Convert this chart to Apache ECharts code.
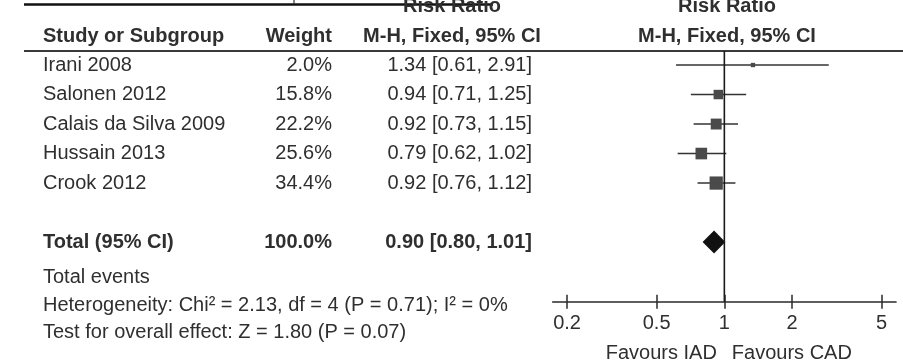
<!DOCTYPE html>
<html>
<head>
<meta charset="utf-8">
<script src="https://cdn.jsdelivr.net/npm/echarts@6/dist/echarts.min.js"></script>
<style>
  html, body { margin: 0; padding: 0; background: #fff; }
  #chart { width: 903px; height: 361px; }
</style>
</head>
<body>
<div id="chart"></div>
<script>
// Study-level data
const studies = ['Irani 2008', 'Salonen 2012', 'Calais da Silva 2009', 'Hussain 2013', 'Crook 2012'];
const weights = [2.0, 15.8, 22.2, 25.6, 34.4];
const ratios  = [1.34, 0.94, 0.92, 0.79, 0.92];
const lower   = [0.61, 0.71, 0.73, 0.62, 0.76];
const upper   = [2.91, 1.25, 1.15, 1.02, 1.12];

// Pooled estimate
const totalLabel  = 'Total (95% CI)';
const totalWeight = 100.0;
const totalRatio  = 0.90;
const totalLower  = 0.80;
const totalUpper  = 1.01;

// Axis ticks (risk ratio, log scale)
const tickValues = [0.2, 0.5, 1, 2, 5];
const tickLabels = ['0.2', '0.5', '1', '2', '5'];

// Text
const headers     = ['Study or Subgroup', 'Weight', 'M-H, Fixed, 95% CI'];
const groupTitle  = 'Risk Ratio';
const footnotes   = [
  'Total events',
  'Heterogeneity: Chi\u00b2 = 2.13, df = 4 (P = 0.71); I\u00b2 = 0%',
  'Test for overall effect: Z = 1.80 (P = 0.07)'
];
const favourLeft  = 'Favours IAD';
const favourRight = 'Favours CAD';

// ---- layout ----
const FONT = '"Liberation Sans", Arial, Helvetica, sans-serif';
const INK = '#2f2f2f';
const FS = 20;
const lg = Math.log10;
const xSpan = 0.7628;          // half-width of the log axis, in decades
const yMin = -0.475, yMax = 8.02;

const studyRows = [0, 1, 2, 3, 4];
const totalRow = 6;
const footRows = [7.2, 8.15, 9.05];
const headerRow = -0.98;
const titleRow = -1.98;
const favourRow = 9.76;

const COL_STUDY = 43;      // left edge
const COL_WEIGHT = 332;    // right edge
const COL_CI = 532;        // right edge
const COL_CI_MID = 452;    // header centre
const FOREST_MID = 727;    // forest header centre

const fmtW = w => w.toFixed(1) + '%';
const fmtCI = (r, l, u) => r.toFixed(2) + ' [' + l.toFixed(2) + ', ' + u.toFixed(2) + ']';

// rows of the table
const tableRows = [];
tableRows.push({ row: titleRow, cells: [null, null, groupTitle], bold: true, center: true, forest: groupTitle });
tableRows.push({ row: headerRow, cells: headers, bold: true, center: true, forest: headers[2] });
studies.forEach((s, i) => {
  tableRows.push({ row: studyRows[i], cells: [s, fmtW(weights[i]), fmtCI(ratios[i], lower[i], upper[i])], bold: false });
});
tableRows.push({ row: totalRow, cells: [totalLabel, fmtW(totalWeight), fmtCI(totalRatio, totalLower, totalUpper)], bold: true });
footnotes.forEach((t, k) => tableRows.push({ row: footRows[k], cells: [t], bold: false }));

function txt(text, x, y, align, bold) {
  return {
    type: 'text',
    style: {
      text: text, x: x, y: y, align: align, verticalAlign: 'middle',
      font: (bold ? 'bold ' : '') + FS + 'px ' + FONT, fill: INK
    }
  };
}

const chart = echarts.init(document.getElementById('chart'), null, { renderer: 'canvas' });

const studyData = studies.map((s, i) => [lg(ratios[i]), studyRows[i], lg(lower[i]), lg(upper[i]), weights[i]]);
const totalData = [[lg(totalRatio), totalRow, lg(totalLower), lg(totalUpper)]];
const tickLogs = tickValues.map(lg);

chart.setOption({
  animation: false,
  backgroundColor: '#fff',
  grid: { left: 552.7, right: 7, top: 51, bottom: 59.3, containLabel: false },
  xAxis: [
    {
      type: 'value', min: -xSpan, max: xSpan, position: 'bottom',
      axisLine: { show: true, onZero: false, lineStyle: { color: '#2a2a2a', width: 1.6 } },
      axisTick: { show: true, inside: false, length: 7, customValues: tickLogs, lineStyle: { color: '#2a2a2a', width: 1.5 } },
      axisLabel: {
        show: true, customValues: tickLogs, margin: 12,
        color: INK, fontFamily: FONT, fontSize: FS,
        formatter: v => {
          const i = tickLogs.findIndex(t => Math.abs(t - v) < 1e-6);
          return i >= 0 ? tickLabels[i] : '';
        }
      },
      splitLine: { show: false }
    },
    {
      type: 'value', min: -xSpan, max: xSpan, position: 'bottom',
      axisLine: { show: false, onZero: false },
      axisTick: { show: true, inside: true, length: 7, customValues: tickLogs, lineStyle: { color: '#2a2a2a', width: 1.5 } },
      axisLabel: { show: false },
      splitLine: { show: false }
    }
  ],
  yAxis: { type: 'value', inverse: true, min: yMin, max: yMax, show: false },
  graphic: [
    // rule under the column headers
    { type: 'line', shape: { x1: 24, y1: 51, x2: 903, y2: 51 }, style: { stroke: '#3a3a3a', lineWidth: 2 } },
    // rule at the top edge
    { type: 'line', shape: { x1: 24, y1: 4.5, x2: 493, y2: 4.5 }, style: { stroke: '#111', lineWidth: 2.6 } },
    { type: 'line', shape: { x1: 294, y1: 0, x2: 294, y2: 4 }, style: { stroke: '#333', lineWidth: 1.2 } }
  ],
  series: [
    // line of no effect
    {
      type: 'line', xAxisIndex: 0, symbol: 'none', silent: true,
      data: [[0, yMin], [0, yMax]],
      lineStyle: { color: '#1a1a1a', width: 1.6 }
    },
    // study estimates
    {
      type: 'custom', xAxisIndex: 0, clip: false,
      data: studyData,
      renderItem: (params, api) => {
        const y = api.coord([0, api.value(1)])[1];
        const xl = api.coord([api.value(2), 0])[0];
        const xh = api.coord([api.value(3), 0])[0];
        const xm = api.coord([api.value(0), 0])[0];
        const side = 2.0 * Math.sqrt(api.value(4)) + 1.5;
        return {
          type: 'group', children: [
            { type: 'line', shape: { x1: xl, y1: y, x2: xh, y2: y }, style: { stroke: '#333', lineWidth: 1.5 } },
            { type: 'rect', shape: { x: xm - side / 2, y: y - side / 2, width: side, height: side }, style: { fill: '#4a4a4a' } }
          ]
        };
      }
    },
    // pooled estimate
    {
      type: 'custom', xAxisIndex: 0, clip: false,
      data: totalData,
      renderItem: (params, api) => {
        const y = api.coord([0, api.value(1)])[1];
        const xl = api.coord([api.value(2), 0])[0];
        const xh = api.coord([api.value(3), 0])[0];
        const xm = api.coord([api.value(0), 0])[0];
        const h = 11.5;
        return {
          type: 'polygon',
          shape: { points: [[xl, y], [xm, y - h], [xh, y], [xm, y + h]] },
          style: { fill: '#111' }
        };
      }
    },
    // table text
    {
      type: 'custom', xAxisIndex: 0, clip: false, silent: true,
      data: tableRows.map(r => [0, r.row]),
      renderItem: (params, api) => {
        const r = tableRows[params.dataIndex];
        const y = api.coord([0, api.value(1)])[1];
        const kids = [];
        if (r.cells[0] != null) kids.push(txt(r.cells[0], COL_STUDY, y, 'left', r.bold));
        if (r.cells[1] != null) kids.push(txt(r.cells[1], COL_WEIGHT, y, 'right', r.bold));
        if (r.cells[2] != null) {
          if (r.center) kids.push(txt(r.cells[2], COL_CI_MID, y, 'center', r.bold));
          else kids.push(txt(r.cells[2], COL_CI, y, 'right', r.bold));
        }
        if (r.forest) kids.push(txt(r.forest, FOREST_MID, y, 'center', r.bold));
        return { type: 'group', children: kids };
      }
    },
    // direction labels under the axis
    {
      type: 'custom', xAxisIndex: 0, clip: false, silent: true,
      data: [[0, favourRow]],
      renderItem: (params, api) => {
        const p = api.coord([api.value(0), api.value(1)]);
        return {
          type: 'group', children: [
            txt(favourLeft, p[0] - 7.5, p[1], 'right', false),
            txt(favourRight, p[0] + 7.5, p[1], 'left', false)
          ]
        };
      }
    }
  ]
});
</script>
</body>
</html>
